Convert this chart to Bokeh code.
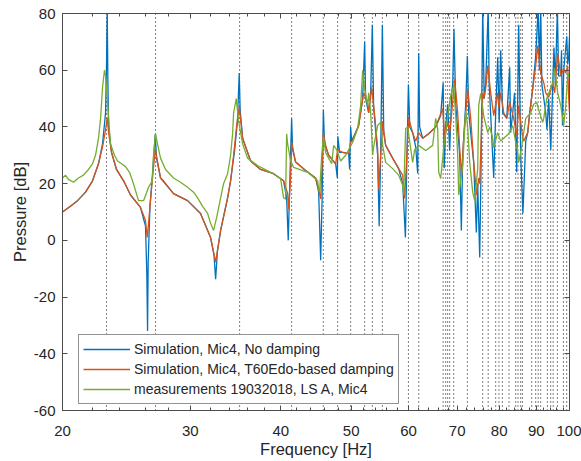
from bokeh.plotting import figure
from bokeh.models import (Range1d, FixedTicker, PrintfTickFormatter, LinearAxis,
                          LogAxis, ColumnDataSource)
from bokeh.embed import file_html
from bokeh.resources import INLINE

# ---------------- data ----------------
# Simulation, Mic4, No damping
f_nodamp = [20.00, 20.51, 20.98, 21.52, 22.00, 22.42, 22.71, 22.93, 23.00, 23.05, 23.10, 23.15,
            23.37, 23.74, 24.28, 24.82, 25.62, 26.03, 26.14, 26.20, 26.25, 26.40, 26.59, 26.72,
            26.85, 26.95, 27.30, 28.45, 29.75, 31.00, 32.00, 32.35, 32.52, 32.70, 33.04, 33.78,
            34.10, 34.55, 34.85, 35.05, 35.15, 35.43, 36.34, 37.51, 39.09, 40.35, 40.74, 40.95,
            41.15, 41.39, 41.52, 41.92, 43.27, 44.67, 45.10, 45.39, 45.60, 45.78, 45.95, 46.55,
            47.60, 47.85, 47.93, 48.20, 48.67, 49.61, 49.76, 49.92, 50.08, 51.21, 51.86, 52.19,
            52.35, 52.86, 53.20, 53.48, 53.70, 54.39, 54.65, 54.91, 55.21, 55.45, 55.79, 57.04,
            58.14, 58.89, 59.40, 59.64, 59.97, 60.23, 60.78, 61.37, 61.76, 61.96, 62.15, 62.75,
            63.95, 65.39, 66.44, 66.96, 67.18, 67.50, 67.93, 68.36, 68.80, 69.02, 69.30, 69.68,
            70.57, 70.94, 71.25, 71.93, 72.31, 72.62, 73.78, 74.40, 74.72, 75.20, 75.56, 75.92,
            76.28, 76.64, 77.25, 77.50, 78.62, 79.11, 79.62, 80.00, 80.38, 80.90, 81.93, 82.71,
            82.95, 83.51, 84.00, 84.57, 85.11, 85.65, 86.25, 87.03, 87.58, 88.14, 88.98, 89.83,
            90.54, 90.90, 91.26, 91.60, 92.73, 93.10, 93.62, 94.22, 94.82, 95.20, 95.60, 96.23,
            96.60, 97.26, 97.50, 97.80, 98.19, 99.13, 99.44, 99.76, 100.00]
p_nodamp = [10, 12, 14, 17, 21, 27, 34, 45, 62, 82, 56, 40,
            31, 25, 21, 16, 11.6, 5, -12, -32, -8, 12, 22, 30,
            37.5, 29, 22, 16.5, 14, 9.5, 1, -5, -13.7, -4, 3.5, 15,
            21, 32, 42, 59, 46, 36, 28, 25, 23.5, 21, 15, 0,
            20, 43, 32, 27.6, 24.6, 22, 17, -7, 15, 46, 34, 30,
            27, 22, 36.7, 31, 31, 30.6, 25, 40, 35, 40.5, 50, 70,
            50, 45, 52, 76, 47, 30, 5, 30, 76, 38, 33.5, 29,
            25.3, 20, 1, 25, 55, 40, 38, 33, 23.6, 66, 40, 36,
            37.6, 40, 44, 55.6, 25.4, 40, 48, 31.7, 52, 55, 74.6, 48,
            30, 3.5, 30, 48, 65, 45, 27.5, 2.8, 20, -6, 30, 82,
            50, 55, 82, 55, 22, 45, 64.6, 41.6, 67, 45, 43, 61,
            38, 45, 52, 24, 76, 30, 9.5, 35, 38, 45, 53.5, 65,
            82, 60, 82, 55, 45, 39, 50, 32, 55, 68, 55, 82,
            58, 58, 67, 40.5, 60, 72, 62, 65, 72]

# Simulation, Mic4, T60Edo-based damping
f_damp = [20.00, 20.51, 20.98, 21.52, 22.00, 22.42, 22.71, 22.93, 23.05, 23.15, 23.37, 23.74,
          24.28, 24.82, 25.62, 26.03, 26.17, 26.28, 26.59, 26.85, 26.95, 27.30, 27.56, 28.45,
          29.75, 31.00, 32.00, 32.52, 33.04, 33.78, 34.10, 34.43, 34.75, 35.05, 35.43, 36.34,
          37.51, 39.09, 40.35, 40.87, 41.00, 41.26, 41.39, 41.92, 43.27, 44.67, 45.10, 45.39,
          45.78, 46.11, 46.55, 47.60, 47.90, 48.67, 49.61, 49.92, 50.24, 51.21, 52.03, 52.69,
          52.86, 53.36, 53.88, 54.39, 54.56, 55.26, 55.79, 57.04, 58.14, 58.89, 59.26, 60.02,
          60.78, 61.37, 61.95, 62.75, 63.95, 65.39, 66.86, 67.29, 67.93, 68.36, 68.80, 69.46,
          70.12, 70.57, 71.02, 71.47, 72.38, 73.08, 73.78, 74.48, 74.96, 75.20, 75.44, 75.92,
          76.16, 76.64, 77.13, 77.87, 78.62, 79.62, 79.87, 80.38, 81.15, 81.93, 82.71, 83.77,
          84.57, 85.11, 86.20, 86.47, 87.58, 88.14, 88.98, 89.83, 90.41, 91.27, 92.15, 92.73,
          93.62, 94.82, 95.42, 96.33, 97.26, 98.19, 98.81, 99.44, 99.76, 100.00]
p_damp = [10, 12, 14, 17, 21, 27, 33, 39, 43.3, 38, 31, 25,
          21, 16, 11.6, 7, 1, 6, 21, 32, 30, 22, 21, 16.5,
          14, 9.5, 1, -7.7, 3.5, 15, 21, 30, 40, 47, 36, 28,
          25, 23.5, 21, 16.5, 11, 22, 34.6, 27.6, 24.6, 22, 18, 14.6,
          38, 33.5, 30, 27, 32, 31, 30.6, 34.6, 35, 40.5, 52, 48.6,
          45, 54, 44, 32.4, 18, 41.6, 33.5, 29, 25.3, 23, 14.8, 43,
          38, 35, 38, 36, 37.6, 40, 46.5, 36, 42, 38, 45, 57,
          45, 32.4, 23, 36, 53.5, 43, 27.5, 16, 22, 20, 31, 52,
          50, 53.5, 61.6, 52, 44, 52, 47, 52, 45, 43, 48.6, 43,
          37, 47.5, 36, 35, 38, 45, 53.5, 61.6, 68.6, 59, 55.6, 52,
          50.4, 55.6, 52, 66, 58, 60.6, 59, 61.6, 50, 45]

# measurements 19032018, LS A, Mic4
f_meas = [20.00, 20.19, 20.38, 20.71, 21.04, 21.38, 21.72, 22.00, 22.21, 22.42, 22.57, 22.71,
          22.85, 22.93, 23.07, 23.29, 23.59, 23.82, 24.12, 24.43, 24.74, 24.98, 25.46, 25.87,
          26.28, 26.60, 26.70, 26.87, 27.04, 27.30, 27.74, 28.45, 29.09, 29.75, 30.32, 30.71,
          31.20, 31.70, 32.00, 32.31, 32.62, 33.04, 33.35, 33.78, 34.10, 34.32, 34.43, 34.72,
          34.98, 35.43, 35.99, 37.15, 38.72, 39.97, 40.35, 40.61, 40.74, 40.87, 41.26, 41.66,
          43.55, 44.96, 45.10, 45.24, 45.54, 45.78, 46.11, 46.55, 47.00, 47.30, 47.75, 48.36,
          49.14, 50.24, 51.04, 51.53, 51.86, 52.19, 52.69, 52.86, 53.20, 53.53, 53.70, 54.39,
          54.91, 55.26, 55.79, 57.04, 58.14, 58.89, 59.07, 59.45, 59.83, 60.40, 60.78, 61.17,
          61.95, 63.35, 64.77, 65.39, 65.81, 66.02, 66.44, 67.07, 67.93, 68.58, 69.24, 69.68,
          70.12, 70.35, 71.25, 71.93, 72.38, 72.85, 73.54, 74.01, 74.72, 74.96, 75.44, 76.16,
          77.13, 77.62, 78.37, 78.62, 79.62, 80.38, 81.15, 82.45, 83.51, 84.31, 84.84, 85.11,
          85.93, 87.03, 88.42, 89.26, 90.12, 90.69, 91.85, 92.15, 93.03, 93.62, 94.82, 95.42,
          96.33, 97.26, 98.19, 98.81, 99.44, 99.76, 100.00]
p_meas = [22, 23, 21.5, 20.5, 22, 23, 25, 27, 30, 36, 43, 54,
          60, 58, 49, 34, 30, 28, 27, 26, 24, 21, 14, 14,
          18.7, 21, 30, 37.6, 34, 29, 25, 22, 20.5, 18.7, 17, 15,
          12, 9.5, 6, 3.5, 8, 15, 20, 23.5, 30, 37.6, 45, 50,
          42, 34, 29, 26.4, 24, 21.8, 15, 14.5, 37.6, 34, 28, 25.7,
          24, 21, 18, 17, 30, 36.4, 31, 29, 27, 33.5, 32, 28,
          30, 34.6, 39.4, 47.5, 60, 53.5, 47.5, 52, 45, 30, 33, 40.5,
          41.6, 33.5, 27.5, 25.3, 23, 19.4, 16, 39.4, 40, 32.4, 27.5, 32,
          33.5, 31.7, 33.5, 43, 39.4, 24, 21.8, 32.4, 44, 51, 54.6, 44,
          30, 16, 26.4, 45.8, 40, 27.5, 17, 14, 25.3, 47.5, 51.8, 44,
          38, 40, 36, 32.7, 38, 35, 36, 37.6, 40.5, 34.5, 31, 27.5,
          33, 43, 45, 48, 48.6, 46, 41.6, 43, 50, 52, 55.6, 60.6,
          52, 47.5, 40.5, 47.5, 58, 59, 57]

# eigenfrequencies (dotted vertical lines)
mode_freqs = [23.00, 26.87, 35.09, 41.39, 45.77, 47.90, 49.92, 52.19, 53.48, 55.21, 59.97,
              61.96, 66.96, 67.50, 67.92, 68.36, 69.23, 72.31, 75.91, 77.25, 79.11, 79.94,
              80.81, 82.52, 84.30, 84.91, 85.64, 86.11, 88.69, 89.82, 90.54, 91.26, 93.22,
              94.20, 94.95, 96.23, 98.08, 99.11]

x_ticks = [20, 30, 40, 50, 60, 70, 80, 90, 100]
x_minor_ticks = [22, 24, 26, 28, 32, 34, 36, 38, 42, 44, 46, 48, 52, 54, 56, 58, 62, 64, 66, 68,
                 72, 74, 76, 78, 82, 84, 86, 88, 92, 94, 96, 98]
y_ticks = [-60, -40, -20, 0, 20, 40, 60, 80]
x_min, x_max = 20, 100
y_min, y_max = -60, 80

labels = ["Simulation, Mic4, No damping",
          "Simulation, Mic4, T60Edo-based damping",
          "measurements 19032018, LS A, Mic4"]
colors = ["#0072BD", "#D95319", "#77AC30"]

# ---------------- figure ----------------
FONT = "Liberation Sans"
AX = "#4d4d4d"
TXT = "#262626"

p = figure(width=581, height=461, x_axis_type="log",
           x_range=Range1d(x_min, x_max), y_range=Range1d(y_min, y_max),
           output_backend="svg", toolbar_location=None,
           min_border_left=62, min_border_right=12, min_border_top=13, min_border_bottom=51)
p.background_fill_color = "white"
p.border_fill_color = "white"
p.outline_line_color = AX
p.outline_line_width = 1
p.xgrid.visible = False
p.ygrid.visible = False

xt = FixedTicker(ticks=x_ticks, minor_ticks=x_minor_ticks)
yt = FixedTicker(ticks=y_ticks, minor_ticks=[])


def style_axis(ax, show_labels=True):
    ax.axis_line_color = AX
    ax.axis_line_width = 1
    ax.major_tick_line_color = AX
    ax.minor_tick_line_color = AX
    ax.major_tick_in = 5
    ax.major_tick_out = 0
    ax.minor_tick_in = 3
    ax.minor_tick_out = 0
    ax.major_label_text_font = FONT
    ax.axis_label_text_font = FONT
    ax.axis_label_text_color = TXT
    ax.axis_label_text_font_style = "normal"
    if show_labels:
        ax.major_label_text_color = TXT
        ax.major_label_text_font_size = "15px"
        ax.axis_label_text_font_size = "16.5px"
    else:
        ax.major_label_text_color = None
        ax.major_label_text_font_size = "1px"
        ax.major_label_standoff = 0


p.xaxis.ticker = xt
p.xaxis.formatter = PrintfTickFormatter(format="%d")
p.yaxis.ticker = yt
p.yaxis.formatter = PrintfTickFormatter(format="%d")
for ax in p.xaxis + p.yaxis:
    style_axis(ax)
p.xaxis.axis_label = "Frequency [Hz]"
p.yaxis.axis_label = "Pressure [dB]"
p.xaxis.major_label_standoff = 15
p.xaxis.axis_label_standoff = 1
p.yaxis.major_label_standoff = 7
p.yaxis.axis_label_standoff = 2

top = LogAxis(ticker=xt)
style_axis(top, show_labels=False)
p.add_layout(top, "above")
right = LinearAxis(ticker=yt)
style_axis(right, show_labels=False)
p.add_layout(right, "right")

# dotted eigenfrequency lines
src_modes = ColumnDataSource(dict(x=mode_freqs, y0=[y_min] * len(mode_freqs),
                                  y1=[y_max] * len(mode_freqs)))
p.segment(x0="x", y0="y0", x1="x", y1="y1", source=src_modes,
          line_color="black", line_width=1, line_dash="1 3")

series = [(f_nodamp, p_nodamp), (f_damp, p_damp), (f_meas, p_meas)]
for (fx, py), lab, col in zip(series, labels, colors):
    p.line(fx, py, line_color=col, line_width=1.3, legend_label=lab)

lg = p.legend[0]
lg.location = (16, 6)
lg.label_text_font = FONT
lg.label_text_font_size = "14px"
lg.label_text_color = TXT
lg.border_line_color = TXT
lg.border_line_width = 1
lg.background_fill_color = "white"
lg.background_fill_alpha = 1
lg.padding = 4
lg.spacing = 0
lg.margin = 0
lg.label_standoff = 4
lg.glyph_width = 47
lg.glyph_height = 20
lg.label_height = 20

open("out.html", "w").write(file_html(p, INLINE))
